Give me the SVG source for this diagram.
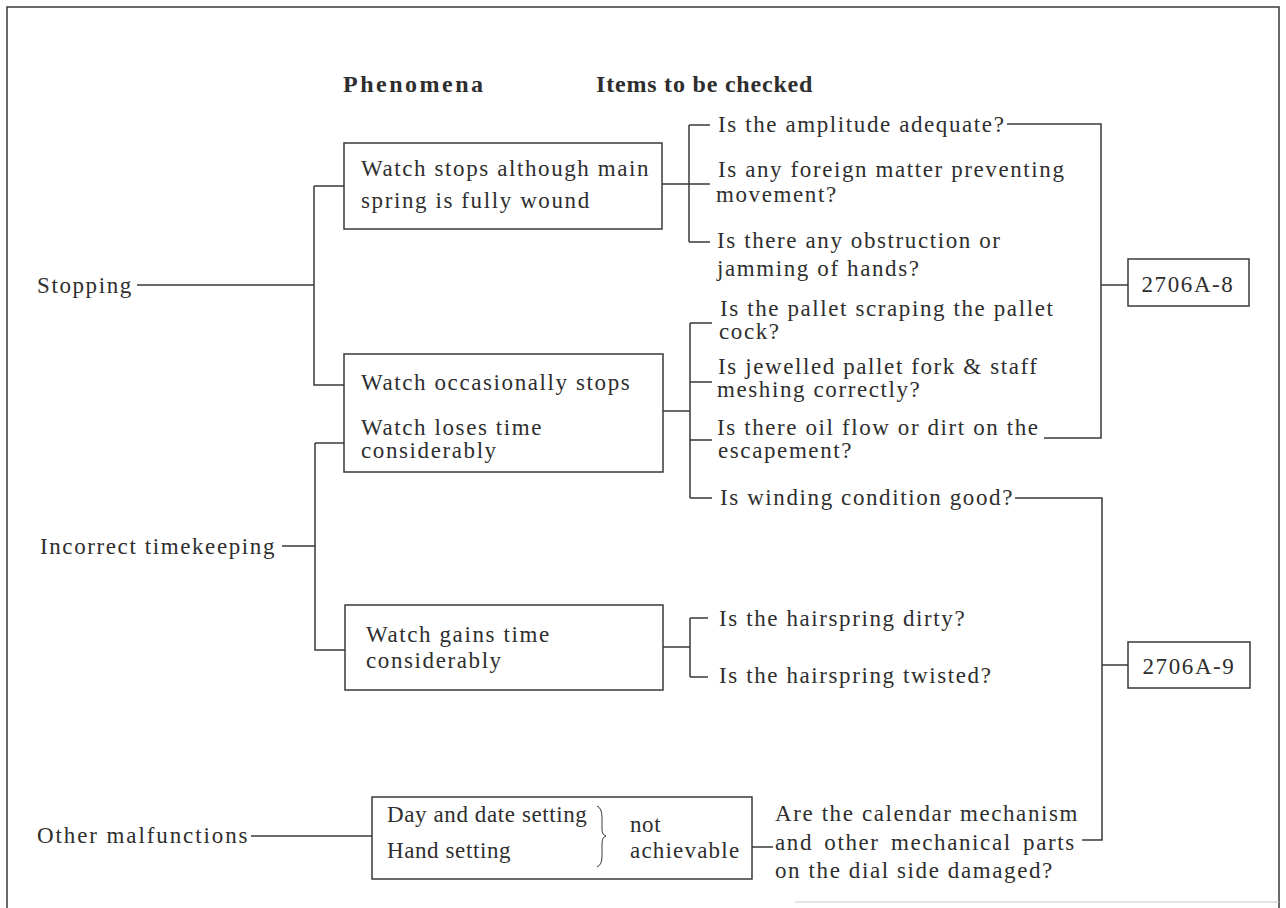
<svg xmlns="http://www.w3.org/2000/svg" width="1286" height="908" viewBox="0 0 1286 908">
<style>
.t{font-family:"Liberation Serif","Times New Roman",serif;font-size:23px;letter-spacing:1.6px;fill:#2e2e2e}
.h{font-weight:bold;font-size:24px}
.n{letter-spacing:0.6px}
.box{fill:#fff;stroke:#3a3a3a;stroke-width:1.5}
.ln{fill:none;stroke:#3a3a3a;stroke-width:1.5}
</style>
<rect width="1286" height="908" fill="#fff"/>
<g id="frame">
<path class="ln" d="M7,908 V7 H1279 V908"/>
<path d="M795,902 H1279" stroke="#c8c8c8" stroke-width="1.2" fill="none"/>
</g>
<g id="headers">
<text class="t h" x="343" y="92" style="letter-spacing:2.5px">Phenomena</text>
<text class="t h" x="596" y="92" style="letter-spacing:0.8px">Items to be checked</text>
</g>
<g id="connectors">
<path class="ln" d="M137,285 H314 M314,186 H344 M314,186 V385 H344"/>
<path class="ln" d="M282,546 H315 M315,443 H344 M315,443 V650 H345"/>
<path class="ln" d="M662,184 H710 M689,125 V242 M689,125 H710 M689,242 H710"/>
<path class="ln" d="M663,411 H690 M690,323 V498 M690,323 H712 M690,382 H712 M690,440 H712 M690,498 H712"/>
<path class="ln" d="M663,647 H690 M690,618 V677 M690,618 H708 M690,677 H708"/>
<path class="ln" d="M1007,124 H1101 V438 H1044 M1101,285 H1128"/>
<path class="ln" d="M1015,498 H1102 V840 H1082 M1102,665 H1128"/>
<path class="ln" d="M251,836 H372 M752,847 H773"/>
</g>
<g id="n-stopping"><text class="t" x="37" y="293">Stopping</text></g>
<g id="n-incorrect"><text class="t" x="40" y="554">Incorrect timekeeping</text></g>
<g id="n-other"><text class="t" x="37" y="843" style="letter-spacing:1.9px">Other malfunctions</text></g>
<g id="n-box1">
<rect class="box" x="344" y="143" width="318" height="86"/>
<text class="t" x="361" y="176">Watch stops although main</text>
<text class="t" x="361" y="208">spring is fully wound</text>
</g>
<g id="n-box2">
<rect class="box" x="344" y="354" width="319" height="118"/>
<text class="t" x="361" y="390">Watch occasionally stops</text>
<text class="t" x="361" y="435">Watch loses time</text>
<text class="t" x="361" y="458">considerably</text>
</g>
<g id="n-box3">
<rect class="box" x="345" y="605" width="318" height="85"/>
<text class="t" x="366" y="642">Watch gains time</text>
<text class="t" x="366" y="668">considerably</text>
</g>
<g id="n-box4">
<rect class="box" x="372" y="797" width="380" height="82"/>
<text class="t n" x="387" y="822">Day and date setting</text>
<text class="t n" x="387" y="858">Hand setting</text>
<path class="ln" style="stroke-width:1" d="M597,806 Q602,808 602,818 L602,829 Q602,835 606,836 Q602,837 602,844 L602,856 Q602,865 597,867"/>
<text class="t n" x="630" y="832">not</text>
<text class="t" x="630" y="858" style="letter-spacing:1.2px">achievable</text>
</g>
<g id="n-q1"><text class="t" x="718" y="132">Is the amplitude adequate?</text></g>
<g id="n-q2">
<text class="t" x="718" y="177">Is any foreign matter preventing</text>
<text class="t" x="716" y="202">movement?</text>
</g>
<g id="n-q3">
<text class="t" x="717" y="248">Is there any obstruction or</text>
<text class="t" x="717" y="276">jamming of hands?</text>
</g>
<g id="n-q4">
<text class="t" x="720" y="316">Is the pallet scraping the pallet</text>
<text class="t" x="719" y="339">cock?</text>
</g>
<g id="n-q5">
<text class="t" x="718" y="374">Is jewelled pallet fork &amp; staff</text>
<text class="t" x="717" y="397">meshing correctly?</text>
</g>
<g id="n-q6">
<text class="t" x="717" y="435">Is there oil flow or dirt on the</text>
<text class="t" x="718" y="458">escapement?</text>
</g>
<g id="n-q7"><text class="t" x="720" y="505">Is winding condition good?</text></g>
<g id="n-q8"><text class="t" x="719" y="626">Is the hairspring dirty?</text></g>
<g id="n-q9"><text class="t" x="719" y="683">Is the hairspring twisted?</text></g>
<g id="n-q10">
<text class="t" x="775" y="821">Are the calendar mechanism</text>
<text class="t" x="775" y="850" style="word-spacing:4px">and other mechanical parts</text>
<text class="t" x="775" y="878">on the dial side damaged?</text>
</g>
<g id="n-ref8">
<rect class="box" x="1128" y="259" width="121" height="47"/>
<text class="t" x="1188" y="292" text-anchor="middle">2706A-8</text>
</g>
<g id="n-ref9">
<rect class="box" x="1128" y="642" width="122" height="46"/>
<text class="t" x="1189" y="674" text-anchor="middle">2706A-9</text>
</g>
</svg>
